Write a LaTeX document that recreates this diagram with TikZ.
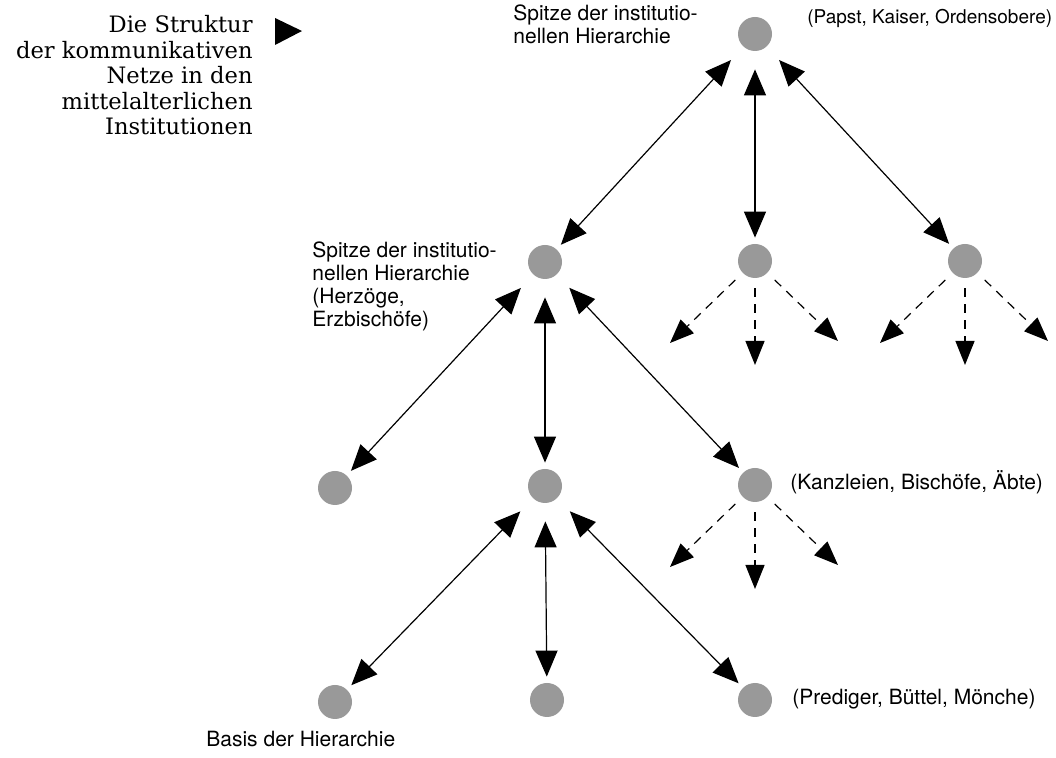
\documentclass[tikz,border=0pt]{standalone}
\usepackage{fontspec}
\setmainfont{TeX Gyre Heros}
\newfontfamily\titelfont{DejaVu Serif}
\usetikzlibrary{arrows.meta}

\begin{document}
\begin{tikzpicture}[x=0.5pt,y=-0.5pt,
  punkt/.style={circle,fill=black!40,minimum size=17pt,inner sep=0pt},
  beide/.style={{Triangle[length=13pt,width=11pt]}-{Triangle[length=13pt,width=11pt]},
                line width=0.6pt,shorten <=9pt,shorten >=3pt},
  weiter/.style={-{Triangle[length=12pt,width=9.5pt]},line width=0.6pt,
                 dash pattern=on 4.5pt off 3.5pt,shorten <=5pt},
  txt/.style={font=\fontsize{10.5}{11.5}\selectfont,align=left,inner sep=0pt,anchor=base west}]
\useasboundingbox (0,0) rectangle (1056,758);

% Titel (base = letzte Zeile)
\node[font=\titelfont\fontsize{11.3}{12.75}\selectfont,align=right,inner sep=0pt,
      anchor=base east] (titel) at (253,135)
  {Die Struktur\\der kommunikativen\\Netze in den\\mittelalterlichen\\Institutionen};
\fill (275,18) -- (302,31) -- (275,45) -- cycle;

% Knoten
\node[punkt] (top) at (755,34) {};
\node[punkt] (ml) at (545,262) {};
\node[punkt] (mc) at (755,261) {};
\node[punkt] (mr) at (965,261) {};
\node[punkt] (bl) at (335,488) {};
\node[punkt] (bc) at (545,486) {};
\node[punkt] (br) at (755,485) {};
\node[punkt] (ul) at (335,702) {};
\node[punkt] (uc) at (547,700) {};
\node[punkt] (ur) at (755,700) {};

% Beschriftungen
\node[txt] (spitze) at (513,44) {Spitze der institutio-\\nellen Hierarchie};
\node[txt,font=\fontsize{9.5}{11}\selectfont] (papst) at (807,24) {(Papst, Kaiser, Ordensobere)};
\node[txt] (herzog) at (312,327) {Spitze der institutio-\\nellen Hierarchie\\(Herzöge,\\Erzbischöfe)};
\node[txt] (kanzlei) at (790,490) {(Kanzleien, Bischöfe, Äbte)};
\node[txt] (prediger) at (792,705) {(Prediger, Büttel, Mönche)};
\node[txt] (basis) at (206,747) {Basis der Hierarchie};

% Verbindungen
\foreach \a/\b in {top/ml,top/mc,top/mr,ml/bl,ml/bc,ml/br,bc/ul,bc/uc,bc/ur}
  \draw[beide] (\a) -- (\b);

\foreach \n in {mc,mr,br}{
  \path (\n) ++(-85,82) coordinate (\n-l);
  \path (\n) ++(0,104) coordinate (\n-m);
  \path (\n) ++(83,80) coordinate (\n-r);
  \draw[weiter] (\n) -- (\n-l);
  \draw[weiter] (\n) -- (\n-m);
  \draw[weiter] (\n) -- (\n-r);
}
\end{tikzpicture}
\end{document}
